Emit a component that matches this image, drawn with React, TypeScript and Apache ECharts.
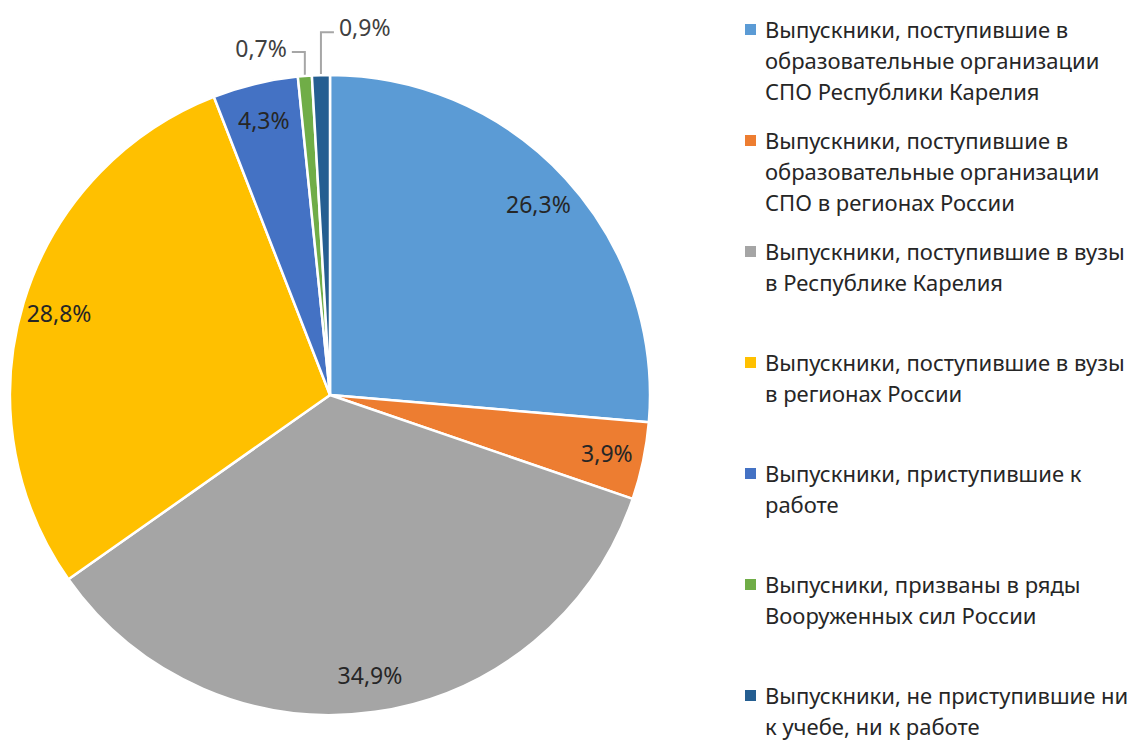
import React, { useEffect, useRef } from "react";
import * as echarts from "echarts";

const categories = [
  "Выпускники, поступившие в образовательные организации СПО Республики Карелия",
  "Выпускники, поступившие в образовательные организации СПО в регионах России",
  "Выпускники, поступившие в вузы в Республике Карелия",
  "Выпускники, поступившие в вузы в регионах России",
  "Выпускники, приступившие к работе",
  "Выпусники, призваны в ряды Вооруженных сил России",
  "Выпускники, не приступившие ни к учебе, ни к работе",
];
const legendLines = [
  ["Выпускники, поступившие в", "образовательные организации", "СПО Республики Карелия"],
  ["Выпускники, поступившие в", "образовательные организации", "СПО в регионах России"],
  ["Выпускники, поступившие в вузы", "в Республике Карелия"],
  ["Выпускники, поступившие в вузы", "в регионах России"],
  ["Выпускники, приступившие к", "работе"],
  ["Выпусники, призваны в ряды", "Вооруженных сил России"],
  ["Выпускники, не приступившие ни", "к учебе, ни к работе"],
];
const values = [26.3, 3.9, 34.9, 28.8, 4.3, 0.7, 0.9];
const colors = ["#5B9BD5", "#ED7D31", "#A5A5A5", "#FFC000", "#4472C4", "#70AD47", "#255E91"];
const outsideLabel = [false, false, false, false, false, true, true];
const leaderLength = [0, 0, 0, 0, 0, 24, 43];
const leaderSide = [0, 0, 0, 0, 0, -1, 1];

const FONT = "'Noto Sans', 'Open Sans', sans-serif";
const fmt = (v: number) => v.toFixed(1).replace(".", ",") + "%";

export default function App() {
  const ref = useRef<HTMLDivElement>(null);
  useEffect(() => {
    if (!ref.current) return;
    const chart = echarts.init(ref.current, undefined, { renderer: "svg" });

    const LH = 31;
    const graphic: any[] = [];
    legendLines.forEach((lines, i) => {
      const y0 = 29 + i * 111;
      graphic.push({
        type: "rect",
        shape: { x: 745, y: y0 - 5, width: 11, height: 11 },
        style: { fill: colors[i] },
      });
      graphic.push({
        type: "text",
        x: 765,
        y: y0 - LH / 2,
        style: {
          text: lines.join("\n"),
          font: `22px ${FONT}`,
          fill: "#262626",
          lineHeight: LH,
          textVerticalAlign: "top",
        },
      });
    });

    const mainData = values.map((v, i) => ({
      name: categories[i],
      value: v,
      itemStyle: { color: colors[i] },
      label: {
        show: outsideLabel[i],
        position: "outside",
        formatter: fmt(v),
        fontSize: 23,
        fontFamily: FONT,
        color: "#404040",
      },
      labelLine: {
        show: outsideLabel[i],
        length: leaderLength[i],
        length2: 13,
        lineStyle: { color: "#A6A6A6", width: 2 },
      },
    }));

    const labelData = values.map((v, i) => ({
      name: categories[i],
      value: v,
      label: { show: !outsideLabel[i], formatter: fmt(v) },
    }));

    chart.setOption({
      animation: false,
      graphic,
      series: [
        {
          type: "pie",
          center: [330, 395],
          radius: [0, 320],
          startAngle: 90,
          clockwise: true,
          avoidLabelOverlap: false,
          itemStyle: { borderColor: "#fff", borderWidth: 2.5 },
          data: mainData,
          emphasis: { disabled: true },
          labelLayout: (params: any) => {
            const i = params.dataIndex;
            if (!outsideLabel[i] || !params.labelLinePoints) return {};
            const p0 = params.labelLinePoints[0];
            const side = leaderSide[i];
            const p1 = [p0[0], p0[1] - leaderLength[i]];
            const p2 = [p1[0] + side * 13, p1[1]];
            return {
              x: p2[0] + side * 5,
              y: p2[1] - (side > 0 ? 5 : 4),
              align: side > 0 ? "left" : "right",
              verticalAlign: "middle",
              labelLinePoints: [p0, p1, p2],
            };
          },
        },
        {
          type: "pie",
          center: [330, 395],
          radius: [240, 320],
          startAngle: 90,
          clockwise: true,
          silent: true,
          itemStyle: { color: "rgba(0,0,0,0)" },
          label: {
            position: "inside",
            fontSize: 23,
            fontFamily: FONT,
            color: "#262626",
          },
          labelLine: { show: false },
          emphasis: { disabled: true },
          data: labelData,
        },
      ],
    });
    return () => chart.dispose();
  }, []);
  return (
    <div
      ref={ref}
      style={{ position: "fixed", left: 0, top: 0, width: 1144, height: 740, background: "#fff" }}
    />
  );
}
